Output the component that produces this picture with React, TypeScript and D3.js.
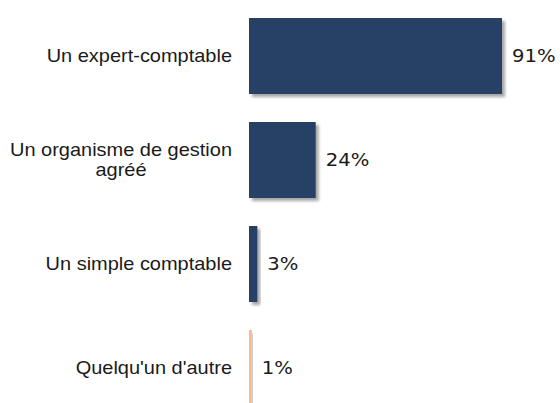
import React, { useEffect, useRef } from "react";
import * as d3 from "d3";

const categories = ["Un expert-comptable", "Un organisme de gestion\nagréé", "Un simple comptable", "Quelqu'un d'autre"];
const values = [91, 24, 3, 1];
const colors = ["#253F66", "#253F66", "#253F66", "#F8B98E"];

const W = 560;
const H = 403;
const SX = 1.09;
const SXL = 1.11;

export default function App() {
  const ref = useRef<SVGSVGElement>(null);

  useEffect(() => {
    const svg = d3.select(ref.current);
    svg.selectAll("*").remove();

    const x = d3.scaleLinear().domain([0, 100]).range([249, 527]);
    const y = d3
      .scaleBand<string>()
      .domain(categories)
      .range([4, 420])
      .paddingInner(28 / 104)
      .paddingOuter(14 / 104);

    const defs = svg.append("defs");
    const f = defs.append("filter").attr("id", "sh").attr("x", "-20%").attr("y", "-20%").attr("width", "160%").attr("height", "160%");
    f.append("feDropShadow").attr("dx", 3).attr("dy", 3).attr("stdDeviation", 1.5).attr("flood-color", "#000").attr("flood-opacity", 0.35);

    const g = svg.append("g");
    categories.forEach((c, i) => {
      const y0 = y(c)!;
      const bw = y.bandwidth();
      g.append("rect")
        .attr("x", x(0))
        .attr("y", y0)
        .attr("width", x(values[i]) - x(0))
        .attr("height", bw)
        .attr("fill", colors[i])
        .attr("filter", "url(#sh)");

      g.append("g")
        .attr("transform", `translate(${x(values[i]) + 10},${y0 + bw / 2}) scale(${SX},1)`)
        .append("text")
        .attr("dy", "0.35em")
        .attr("font-family", "DejaVu Sans, Verdana, sans-serif")
        .attr("font-size", 18)
        .attr("fill", "#1a1a1a")
        .text(values[i] + "%");

      const lines = c.split("\n");
      const lh = 20;
      const cy = y0 + bw / 2 - ((lines.length - 1) * lh) / 2;
      const lg = g.append("g").attr("transform", `translate(232,${cy}) scale(${SXL},1)`);
      const first = lg
        .append("text")
        .attr("x", 0)
        .attr("y", 0)
        .attr("dy", "0.35em")
        .attr("text-anchor", "end")
        .attr("font-family", "Liberation Sans, Arial, sans-serif")
        .attr("font-size", 18)
        .attr("fill", "#1a1a1a")
        .text(lines[0]);
      if (lines.length > 1) {
        const w = (first.node() as SVGTextElement).getComputedTextLength();
        const mid = -w / 2;
        lines.slice(1).forEach((ln, k) => {
          lg.append("text")
            .attr("x", mid)
            .attr("y", (k + 1) * lh)
            .attr("dy", "0.35em")
            .attr("text-anchor", "middle")
            .attr("font-family", "Liberation Sans, Arial, sans-serif")
            .attr("font-size", 18)
            .attr("fill", "#1a1a1a")
            .text(ln);
        });
      }
    });
  }, []);

  return (
    <svg
      ref={ref}
      width={W}
      height={H}
      style={{ position: "absolute", left: 0, top: 0, background: "#fff" }}
    />
  );
}
